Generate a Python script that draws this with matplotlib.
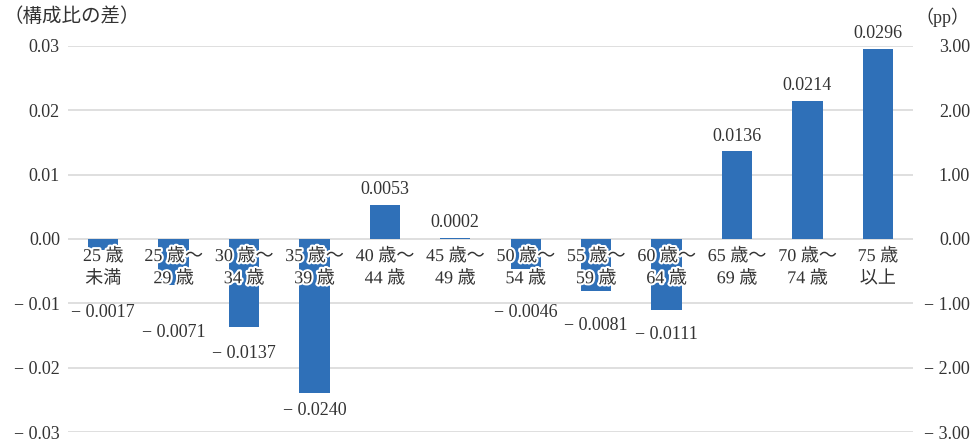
import matplotlib.pyplot as plt
from matplotlib import patheffects
from matplotlib.ticker import FuncFormatter, MultipleLocator

# age groups and difference in composition ratio
categories = ["25 歳\n未満", "25 歳～\n29 歳", "30 歳～\n34 歳", "35 歳～\n39 歳",
              "40 歳～\n44 歳", "45 歳～\n49 歳", "50 歳～\n54 歳", "55 歳～\n59 歳",
              "60 歳～\n64 歳", "65 歳～\n69 歳", "70 歳～\n74 歳", "75 歳\n以上"]
values = [-0.0017, -0.0071, -0.0137, -0.0240, 0.0053, 0.0002,
          -0.0046, -0.0081, -0.0111, 0.0136, 0.0214, 0.0296]

# where the labels of the negative bars sit (data units)
neg_label_y = {0: -0.01135, 1: -0.01446, 2: -0.01772, 3: -0.02658,
               6: -0.0115, 7: -0.01337, 8: -0.01492}

FONT = ['Liberation Serif', 'Noto Sans CJK JP']
TXT = '#333333'
BAR = '#2F70B8'
plt.rcParams['font.family'] = FONT

fig = plt.figure(figsize=(9.77, 4.43), dpi=100)
ax = fig.add_axes([0.0696, 0.0248, 0.8649, 0.8714])

x = list(range(len(values)))
ax.bar(x, values, width=0.43, color=BAR, zorder=2)
ax.set_xlim(-0.5, len(values) - 0.5)
ax.set_ylim(-0.03, 0.03)
ax.yaxis.set_major_locator(MultipleLocator(0.01))
ax.grid(axis='y', color='#d9d9d9', linewidth=1.2, zorder=0)
for s in ax.spines.values():
    s.set_visible(False)
ax.set_xticks([])


def fmt_tick(v, pos):
    v = round(v, 2)
    return f"− {abs(v):.2f}" if v < 0 else f"{abs(v):.2f}"


ax.yaxis.set_major_formatter(FuncFormatter(fmt_tick))
ax.tick_params(axis='y', length=0, pad=5.8, labelsize=13, labelcolor=TXT)

ax2 = ax.twinx()
ax2.set_ylim(-3, 3)
ax2.yaxis.set_major_locator(MultipleLocator(1))
ax2.yaxis.set_major_formatter(FuncFormatter(fmt_tick))
ax2.tick_params(axis='y', length=0, pad=41, labelsize=13, labelcolor=TXT)
for lab in ax2.get_yticklabels():
    lab.set_horizontalalignment('right')
for s in ax2.spines.values():
    s.set_visible(False)

outline = [patheffects.withStroke(linewidth=3, foreground='white')]

# category names sit just under the zero line
for i, name in enumerate(categories):
    ax.text(i, -0.0014, name, ha='center', va='top', fontsize=13, color=TXT,
            linespacing=1.4, path_effects=outline, zorder=4)

# value labels
for i, v in enumerate(values):
    if v >= 0:
        ax.annotate(f"{v:.4f}", (i, v), xytext=(0, 5), textcoords='offset points',
                    ha='center', va='bottom', fontsize=13, color=TXT, zorder=4)
    else:
        ax.text(i, neg_label_y[i], f"− {abs(v):.4f}", ha='center', va='center',
                fontsize=13, color=TXT, zorder=4)

fig.text(0.004, 0.962, "（構成比の差）", ha='left', va='center', fontsize=14, color=TXT)
fig.text(0.992, 0.962, "（pp）", ha='right', va='center', fontsize=13, color=TXT)

fig.savefig('out.png', dpi=100)
